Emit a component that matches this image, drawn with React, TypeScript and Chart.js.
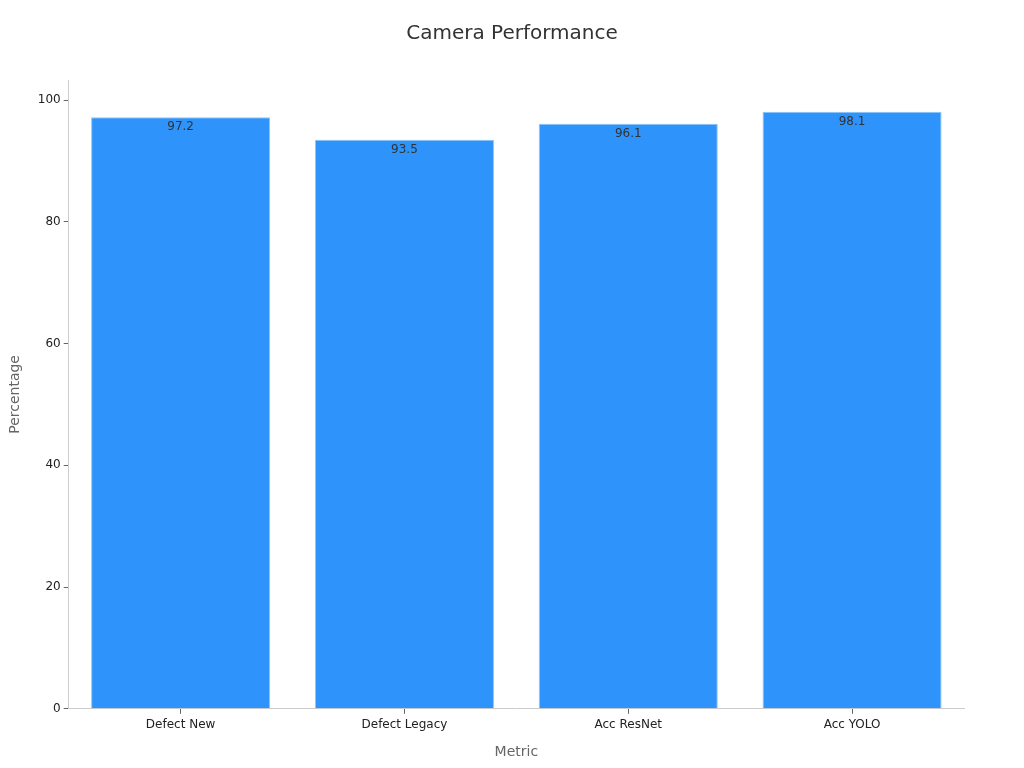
import React, { useEffect, useRef } from "react";
import { Chart, registerables } from "chart.js";

Chart.register(...registerables);

const categories = ["Defect New", "Defect Legacy", "Acc ResNet", "Acc YOLO"];
const values = [97.2, 93.5, 96.1, 98.1];
const yTicks = [0, 20, 40, 60, 80, 100];
const titleText = "Camera Performance";

const FONT = "'DejaVu Sans', sans-serif";

const valueLabels = {
  id: "valueLabels",
  afterDatasetsDraw(chart: any) {
    const ctx = chart.ctx;
    const meta = chart.getDatasetMeta(0);
    ctx.save();
    ctx.font = `12px ${FONT}`;
    ctx.fillStyle = "#333333";
    ctx.textAlign = "center";
    ctx.textBaseline = "middle";
    meta.data.forEach((bar: any, i: number) => {
      ctx.fillText(String(values[i]), bar.x, bar.y + 10);
    });
    ctx.restore();
  },
};

const centeredTitle = {
  id: "centeredTitle",
  afterDraw(chart: any) {
    const ctx = chart.ctx;
    ctx.save();
    ctx.font = `20px ${FONT}`;
    ctx.fillStyle = "#333333";
    ctx.textAlign = "center";
    ctx.textBaseline = "middle";
    ctx.fillText(titleText, chart.width / 2, 34);
    ctx.restore();
  },
};

export default function App() {
  const ref = useRef<HTMLCanvasElement>(null);
  useEffect(() => {
    if (!ref.current) return;
    const chart = new Chart(ref.current, {
      type: "bar",
      data: {
        labels: categories,
        datasets: [
          {
            data: values,
            backgroundColor: "#2E93FA",
            borderColor: "#8CC4FC",
            borderWidth: 1,
            categoryPercentage: 0.8,
            barPercentage: 1.0,
          },
        ],
      },
      options: {
        animation: false,
        responsive: false,
        maintainAspectRatio: false,
        layout: { padding: { left: 3, right: 60, top: 80, bottom: 3 } },
        plugins: {
          legend: { display: false },
          tooltip: { enabled: false },
          title: { display: false },
        },
        scales: {
          x: {
            grid: { display: true, offset: false, drawOnChartArea: false, drawTicks: true, tickLength: 5, color: "#666666" },
            border: { display: true, color: "#cccccc" },
            ticks: { color: "#222222", font: { family: FONT, size: 12 }, padding: 4 },
            title: {
              display: true,
              text: "Metric",
              color: "#666666",
              font: { family: FONT, size: 14 },
              padding: { top: 8 },
            },
          },
          y: {
            min: 0,
            max: 103.3,
            afterBuildTicks(axis: any) {
              axis.ticks = yTicks.map((v) => ({ value: v }));
            },
            grid: { display: true, drawOnChartArea: false, drawTicks: true, tickLength: 5, color: "#666666" },
            border: { display: true, color: "#cccccc" },
            ticks: { color: "#222222", font: { family: FONT, size: 12 }, padding: 3 },
            title: {
              display: true,
              text: "Percentage",
              color: "#666666",
              font: { family: FONT, size: 14 },
              padding: { bottom: 11 },
            },
          },
        },
      },
      plugins: [valueLabels, centeredTitle],
    });
    return () => chart.destroy();
  }, []);
  return (
    <div style={{ position: "fixed", left: 0, top: 0, width: 1024, height: 768, background: "#fff" }}>
      <canvas ref={ref} width={1024} height={768} style={{ width: 1024, height: 768 }} />
    </div>
  );
}
